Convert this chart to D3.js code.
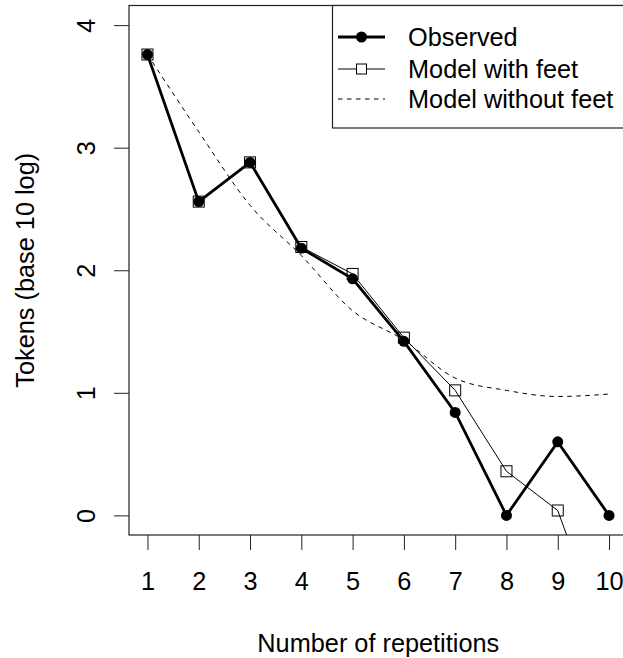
<!DOCTYPE html>
<meta charset="utf-8">
<title>Tokens by number of repetitions</title>

<script src="https://d3js.org/d3.v7.min.js"></script>
<style>
        body {
            margin: 0;
            background: #fff;
            font-family: "Liberation Sans", Arial, sans-serif;
        }
</style>

<div id="chart"></div>

<script>
    // data
    var reps = [1, 2, 3, 4, 5, 6, 7, 8, 9, 10];
    var observed = [3.76, 2.56, 2.88, 2.18, 1.93, 1.42, 0.84, 0, 0.60, 0];
    var modelFeet = [3.76, 2.56, 2.88, 2.19, 1.97, 1.45, 1.02, 0.36, 0.04, -1.11];
    var modelNoFeet = [3.76, 3.13, 2.53, 2.12, 1.67, 1.43, 1.12, 1.02, 0.97, 0.99];
    var yTicks = [0, 1, 2, 3, 4];
    var legendLabels = ["Observed", "Model with feet", "Model without feet"];

    var W = 623, H = 658;
    var box = {left: 129, right: 627.5, top: 5.5, bottom: 535};
    var fontSize = "25.3px";

    var svg = d3.select("#chart")
      .append("svg")
        .attr("width", W)
        .attr("height", H)
        .style("display", "block");

    // R style scales, 4% padding each side
    var x = d3.scaleLinear()
      .domain([0.64, 10.36])
      .range([box.left, box.right]);

    var y = d3.scaleLinear()
      .domain([-0.16, 4.16])
      .range([box.bottom, box.top]);

    svg.append("clipPath")
        .attr("id", "plotclip")
      .append("rect")
        .attr("x", box.left)
        .attr("y", box.top)
        .attr("width", box.right - box.left)
        .attr("height", box.bottom - box.top);

    // x axis
    var xAxis = svg.append("g")
      .attr("transform", "translate(0," + box.bottom + ")")
      .call(d3.axisBottom(x).tickValues(reps).tickSize(15).tickSizeOuter(0))
    xAxis.select(".domain").remove()
    xAxis.selectAll("line").attr("stroke", "#222")
    xAxis.selectAll("text")
      .attr("y", 55)
      .attr("dy", null)
      .attr("fill", "#000")
      .style("font-size", fontSize)
      .style("font-family", "Liberation Sans, Arial, sans-serif")

    // y axis, labels rotated like R
    var yAxis = svg.append("g")
      .attr("transform", "translate(" + box.left + ",0)")
      .call(d3.axisLeft(y).tickValues(yTicks).tickFormat(d3.format("d")).tickSize(15).tickSizeOuter(0))
    yAxis.select(".domain").remove()
    yAxis.selectAll("line").attr("stroke", "#222")
    yAxis.selectAll("text")
      .attr("x", null)
      .attr("dy", null)
      .attr("text-anchor", "middle")
      .attr("transform", "translate(-34,0) rotate(-90)")
      .attr("fill", "#000")
      .style("font-size", fontSize)
      .style("font-family", "Liberation Sans, Arial, sans-serif")

    // axis titles
    svg.append("text")
      .attr("x", (box.left + box.right) / 2)
      .attr("y", 652)
      .attr("text-anchor", "middle")
      .style("font-size", fontSize)
      .text("Number of repetitions")

    svg.append("text")
      .attr("transform", "translate(34," + ((box.top + box.bottom) / 2) + ") rotate(-90)")
      .attr("text-anchor", "middle")
      .style("font-size", fontSize)
      .text("Tokens (base 10 log)")

    var plot = svg.append("g").attr("clip-path", "url(#plotclip)")

    function lineFor(vals, curve) {
        return d3.line()
          .curve(curve || d3.curveLinear)
          .x(function(d, i) { return x(reps[i]); })
          .y(function(d) { return y(d); })(vals);
    }

    // model without feet (dashed, smooth)
    plot.append("path")
      .attr("d", lineFor(modelNoFeet, d3.curveMonotoneX))
      .attr("fill", "none")
      .attr("stroke", "#000")
      .attr("stroke-width", 1)
      .attr("stroke-dasharray", "4.5,4.5")

    // model with feet (thin line + open squares)
    plot.append("path")
      .attr("d", lineFor(modelFeet))
      .attr("fill", "none")
      .attr("stroke", "#000")
      .attr("stroke-width", 1)

    plot.selectAll(".sq")
      .data(modelFeet)
      .enter()
      .append("rect")
      .attr("class", "sq")
      .attr("x", function(d, i) { return x(reps[i]) - 5.5; })
      .attr("y", function(d) { return y(d) - 5.5; })
      .attr("width", 11)
      .attr("height", 11)
      .attr("fill", "none")
      .attr("stroke", "#000")
      .attr("stroke-width", 1)

    // observed (thick line + filled circles)
    plot.append("path")
      .attr("d", lineFor(observed))
      .attr("fill", "none")
      .attr("stroke", "#000")
      .attr("stroke-width", 2.8)

    plot.selectAll(".dot")
      .data(observed)
      .enter()
      .append("circle")
      .attr("class", "dot")
      .attr("cx", function(d, i) { return x(reps[i]); })
      .attr("cy", function(d) { return y(d); })
      .attr("r", 5.5)
      .attr("fill", "#000")

    // plot box
    svg.append("rect")
      .attr("x", box.left)
      .attr("y", box.top)
      .attr("width", box.right - box.left)
      .attr("height", box.bottom - box.top)
      .attr("fill", "none")
      .attr("stroke", "#222")
      .attr("stroke-width", 1.2)

    // legend
    var legend = svg.append("g")
    legend.append("rect")
      .attr("x", 332.5)
      .attr("y", box.top)
      .attr("width", 300)
      .attr("height", 122.5)
      .attr("fill", "#fff")
      .attr("stroke", "#222")
      .attr("stroke-width", 1.2)

    var rowY = [37, 69, 99];
    legendLabels.forEach(function(label, i) {
        var ly = rowY[i];
        var seg = legend.append("line")
          .attr("x1", 338)
          .attr("x2", 385)
          .attr("y1", ly)
          .attr("y2", ly)
          .attr("stroke", "#000")
        if (i == 0) {
            seg.attr("stroke-width", 2.8)
            legend.append("circle")
              .attr("cx", 361.5).attr("cy", ly).attr("r", 5.5)
              .attr("fill", "#000")
        } else if (i == 1) {
            seg.attr("stroke-width", 1)
            legend.append("rect")
              .attr("x", 356.5).attr("y", ly - 5).attr("width", 10).attr("height", 10)
              .attr("fill", "#fff").attr("stroke", "#000")
        } else {
            seg.attr("stroke-width", 1).attr("stroke-dasharray", "4.5,4.5")
        }
        legend.append("text")
          .attr("x", 408)
          .attr("y", ly)
          .attr("dy", "0.35em")
          .style("font-size", fontSize)
          .text(label)
    })
</script>
